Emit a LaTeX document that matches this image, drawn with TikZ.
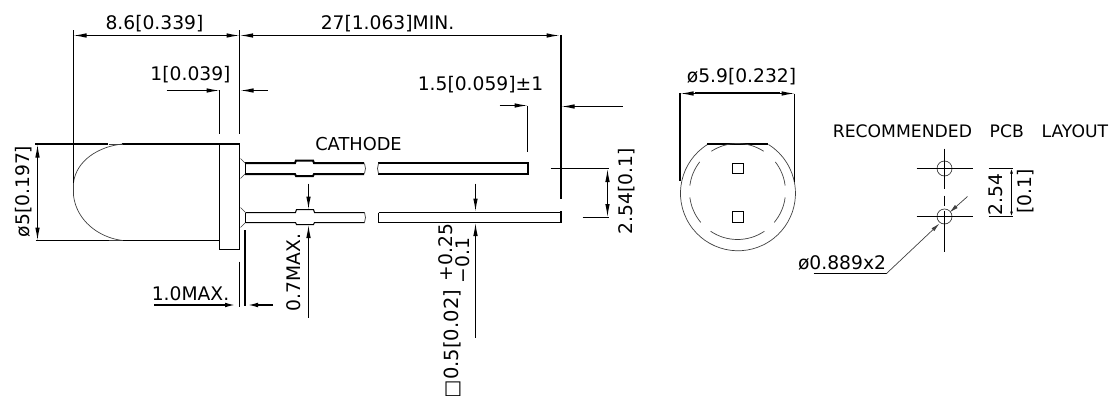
\documentclass[tikz,border=0pt]{standalone}
\usepackage{fontspec}
\setmainfont{DejaVu Sans}
\usetikzlibrary{arrows.meta}

\tikzset{
    thinline/.style={line width=1pt},
    midline/.style={line width=1.5pt},
    heavyline/.style={line width=2pt, shift={(-0.5,-0.5)}},
    hairline/.style={line width=0.7pt, black!75},
    dimarrow/.style={line width=1pt, -{Latex[length=13pt,width=4.5pt]}},
    dimtext/.style={font=\fontsize{18.7}{20}\selectfont, inner sep=0pt},
    sidetext/.style={dimtext, rotate=90},
}

\begin{document}
\begin{tikzpicture}[x=1pt, y=-1pt]

        \useasboundingbox (-0.5,-0.5) rectangle (1110.5,395.5);

        % LED side view
        \draw[heavyline] (35,144) -- (108,144); \draw[heavyline] (122,144)
        -- (240,144);
        \draw[thinline] (35,240) -- (108,240); \draw[thinline] (122,240) --
        (219,240);
        \draw[hairline] (108,143.5) -- (122,143.5); \draw[hairline] (73,182) ..
        controls (76,160) and (98,146) .. (122,143.5);
        \draw[hairline] (73,195) .. controls (76,220) and (98,237) .. (122,240);
        \draw[hairline] (108,240) -- (122,240);
        \draw[hairline] (73,182) -- (73,195);
        \draw[thinline] (219,143.5) -- (219,249) -- (239,249) -- (239,143.5);

        % pins
        \draw[hairline] (240,158) -- (245,163); \draw[hairline] (240,178) --
        (245,173); \draw[thinline] (245,163) -- (245,173);
        \draw[hairline] (240,207) -- (245,212); \draw[hairline] (240,227) --
        (245,222); \draw[thinline] (245,212) -- (245,222);

        \draw[heavyline] (245,163) -- (295,163) -- (296,160.5) -- (313,160.5) --
        (314,163) -- (364,163);
        \draw[heavyline] (245,174) -- (295,174) -- (296,176) -- (313,176) --
        (314,174) -- (364,174);
        \draw[thinline] (245,212) -- (295,212) -- (296,209) -- (313,209) --
        (314,212) -- (364,212);
        \draw[thinline] (245,222) -- (295,222) -- (296,224) -- (313,224) --
        (314,222) -- (364,222);
        \draw[hairline] (364,163) -- (365,168) -- (364,173); \draw[hairline]
        (364,212) -- (365,217) -- (364,222);

        \draw[heavyline] (378,163) -- (528,163) -- (528,174) -- (378,174);
        \draw[hairline] (378,163) -- (377,168) -- (378,173);
        \draw[midline] (378,212) -- (560,212); \draw[midline] (378,222) --
        (560,222); \draw[heavyline] (561,211) -- (561,223);
        \draw[thinline] (378,212) -- (378,222);

        % extension lines
        \draw[thinline] (73,30) -- (73,182); \draw[thinline] (239,30) --
        (239,133); \draw[thinline] (219,90) -- (219,133);
        \draw[heavyline] (561,35) -- (561,199); \draw[thinline] (527,105) --
        (527,151);
        \draw[thinline] (550,168) -- (608,168); \draw[thinline] (582,217) --
        (608,217);
        \draw[thinline] (239,261) -- (239,306); \draw[heavyline] (245,230) --
        (245,306);

        % dimension arrows
        \draw[dimarrow] (154,35) -- (73,35); \draw[dimarrow] (154,35) -- (239,35);
        \draw[dimarrow] (400,35) -- (239.5,35); \draw[dimarrow] (400,35) --
        (559,35);
        \draw[dimarrow] (166,90) -- (219,90); \draw[dimarrow] (267,90) --
        (240,90);
        \draw[dimarrow] (499,105) -- (527,105); \draw[dimarrow] (622,106) --
        (561,106);
        \draw[dimarrow] (37,190) -- (37,144); \draw[dimarrow] (37,190) --
        (37,240);
        \draw[dimarrow, heavyline] (154,305) -- (238,305); \draw[dimarrow,
        heavyline] (273,305) -- (245,305);
        \draw[dimarrow] (308,183) -- (308,209); \draw[dimarrow] (308,317) --
        (308,224.5);
        \draw[dimarrow] (475,183) -- (475,211); \draw[dimarrow] (475,337) --
        (475,222.5);
        \draw[dimarrow] (607,190) -- (607,168.5); \draw[dimarrow] (607,190) --
        (607,216.5);

        % front view
        \draw[hairline] (707,144) arc[start angle=238, end angle=-58, radius=57.5];
        \draw[heavyline] (707,144) -- (768,144);
        \foreach \angA/\angB in {57/123, 142/173, 187/220, 236/304, 320/353, 7/38}
            \draw[hairline] ({737+48*cos(\angA)},{191-48*sin(\angA)}) arc[start
            angle=-\angA, end angle=-\angB, radius=48];
        \draw[thinline] (732,163) rectangle (743,173); \draw[thinline] (732,211)
        rectangle (743,222);
        \draw[heavyline] (680,93) -- (680,181); \draw[thinline] (794,93) --
        (794,181);
        \draw[dimarrow] (737,93) -- (680,93); \draw[dimarrow] (737,93) --
        (794,93); \draw[heavyline] (695,93) -- (780,93);

        % PCB layout
        \draw[hairline] (944,168) circle (7.5); \draw[hairline] (944,216) circle
        (7.5);
        \draw[thinline] (916,168) -- (972,168); \draw[thinline] (916,216) --
        (972,216);
        \draw[thinline] (944,148) -- (944,188); \draw[thinline] (944,195) --
        (944,205); \draw[thinline] (944,210) -- (944,251);
        \draw[thinline] (988,168) -- (1012,168); \draw[thinline] (988,216) --
        (1012,216);
        \draw[dimarrow, -{Latex[length=5pt,width=3pt]}] (1011,192) -- (1011,168);
        \draw[dimarrow, -{Latex[length=5pt,width=3pt]}] (1011,192) -- (1011,216);
        \draw[thinline] (813,273) -- (886,273);
        \draw[dimarrow, hairline, -{Latex[length=9pt,width=4pt]}] (886,273) --
        (939,223);
        \draw[dimarrow, hairline, -{Latex[length=9pt,width=4pt]}] (967,196) --
        (949,212);

        % labels
        \node[dimtext] (lenBody) at (154,23) {8.6[0.339]};
        \node[dimtext] (lenLead) at (387,23) {27[1.063]MIN.};
        \node[dimtext] (lenFlange) at (190,74) {1[0.039]};
        \node[dimtext] (lenEnd) at (480,84) {1.5[0.059]±1};
        \node[dimtext, font=\fontsize{17.8}{20}\selectfont] (cathode) at (358,144) {CATHODE};
        \node[dimtext] (maxFlange) at (190,293) {1.0MAX.};
        \node[sidetext] (dia) at (23,191) {ø5[0.197]};
        \node[sidetext] (maxDam) at (293,272) {0.7MAX.};
        \node[sidetext] (pitch) at (626,191) {2.54[0.1]};
        \node[sidetext, font=\fontsize{19.5}{20}\selectfont] (pinSize) at (452,343.5) {□0.5[0.02]};
        \node[sidetext] (tolPlus) at (445,252) {+0.25};
        \node[sidetext] (tolMinus) at (462,260) {−0.1};
        \node[dimtext] (diaFront) at (741,76) {ø5.9[0.232]};
        \node[dimtext, font=\fontsize{17.2}{20}\selectfont] (pcbTitle) at (970,131)
        {RECOMMENDED\hspace{12.2pt} PCB\hspace{12.2pt} LAYOUT};
        \node[dimtext] (holeSize) at (841.5,262) {ø0.889x2};
        \node[sidetext] (pcbPitch) at (995,194) {2.54};
        \node[sidetext] (pcbInch) at (1025,191) {[0.1]};
    \end{tikzpicture}
\end{document}
